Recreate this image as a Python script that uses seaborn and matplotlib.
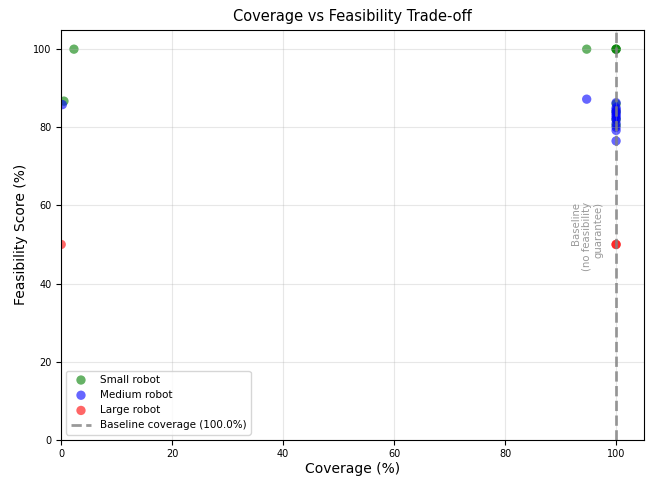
import pandas as pd
import matplotlib
matplotlib.use("Agg")
import matplotlib.pyplot as plt
import seaborn as sns

# coverage (%) and feasibility score (%) per run, by robot size
small_cov = [0.5, 2.3, 94.7, 100, 100, 100, 100, 100, 100, 100]
small_feas = [86.7, 100, 100, 100, 100, 100, 86.0, 84.0, 82.0, 80.5]

medium_cov = [0.2, 94.7, 100, 100, 100, 100, 100, 100, 100, 100, 100, 100, 100, 100]
medium_feas = [85.8, 87.2, 86.3, 85.0, 84.5, 84.0, 83.5, 83.0, 82.5, 82.0, 81.0, 80.0, 79.2, 76.5]

large_cov = [0.0, 100, 100]
large_feas = [50.0, 50.0, 50.0]

baseline_cov = 100.0

df = pd.concat([
    pd.DataFrame({"Coverage": small_cov, "Feasibility": small_feas, "Robot": "Small robot"}),
    pd.DataFrame({"Coverage": medium_cov, "Feasibility": medium_feas, "Robot": "Medium robot"}),
    pd.DataFrame({"Coverage": large_cov, "Feasibility": large_feas, "Robot": "Large robot"}),
])

colors = {"Small robot": "green", "Medium robot": "blue", "Large robot": "red"}

fig, ax = plt.subplots(figsize=(6.51, 4.78), dpi=100)

for robot in ["Small robot", "Medium robot", "Large robot"]:
    sub = df[df["Robot"] == robot]
    sns.scatterplot(data=sub, x="Coverage", y="Feasibility", ax=ax, color=colors[robot],
                    alpha=0.6, s=45, edgecolor="none", label=robot)

ax.axvline(baseline_cov, color="gray", linestyle="--", linewidth=2, alpha=0.8,
           label=f"Baseline coverage ({baseline_cov:.1f}%)")
ax.text(baseline_cov - 2.2, 52, "Baseline\n(no feasibility\nguarantee)", rotation=90,
        ha="right", va="center", color="gray", fontsize=7.3, alpha=0.8)

ax.set_xlim(0, 105)
ax.set_ylim(0, 105)
ax.set_xlabel("Coverage (%)", fontsize=10, labelpad=2)
ax.set_ylabel("Feasibility Score (%)", fontsize=10)
ax.set_title("Coverage vs Feasibility Trade-off", fontsize=10.5)
ax.tick_params(labelsize=7)
ax.grid(True, alpha=0.3)
ax.legend(loc="lower left", fontsize=7.5)

fig.subplots_adjust(left=0.094, right=0.989, top=0.938, bottom=0.08)
plt.savefig("out.png", dpi=100)
